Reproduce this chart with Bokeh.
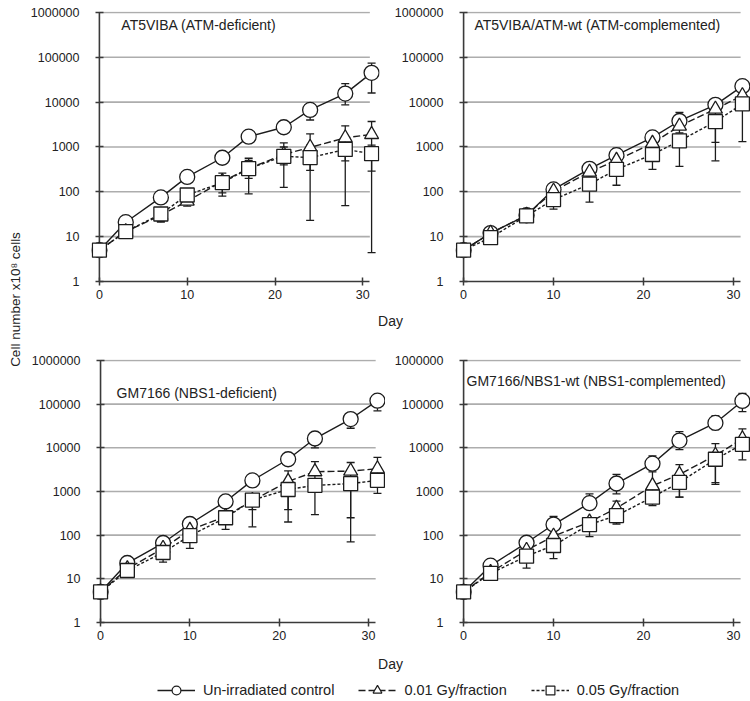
import numpy as np
from bokeh.plotting import figure
from bokeh.models import (Range1d, FixedTicker, NumeralTickFormatter, Label,
                          Legend, LegendItem, ColumnDataSource)
from bokeh.layouts import row, column
from bokeh.embed import file_html
from bokeh.resources import INLINE
from bokeh.core.properties import value

# ---------------- data ----------------
days = [0, 3, 7, 10, 14, 17, 21, 24, 28, 31]
decades = [1, 10, 100, 1000, 10000, 100000, 1000000]
x_ticks = [0, 10, 20, 30]
series_labels = ["Un-irradiated control", "0.01 Gy/fraction", "0.05 Gy/fraction"]
panel_titles = ["AT5VIBA (ATM-deficient)", "AT5VIBA/ATM-wt (ATM-complemented)",
                "GM7166 (NBS1-deficient)", "GM7166/NBS1-wt (NBS1-complemented)"]
x_label = "Day"
y_label = "Cell number x10\u2078 cells"

# Panel A: AT5VIBA
a_ctrl = [5, 21, 75, 215, 575, 1700, 2750, 6700, 15500, 45000]
a_ctrl_lo = [5, 21, 75, 215, 420, 1300, 2750, 4000, 8700, 16000]
a_ctrl_hi = [5, 21, 75, 215, 575, 1700, 2750, 8700, 26000, 74000]
a_g01 = [5, 13, 30, 62, 170, 330, 680, 980, 1600, 1900]
a_g01_lo = [5, 13, 21, 48, 95, 200, 400, 300, 490, 290]
a_g01_hi = [5, 13, 30, 62, 230, 500, 1000, 1950, 2960, 3700]
a_g05 = [5, 13, 32, 85, 160, 330, 620, 580, 880, 710]
a_g05_lo = [5, 13, 22, 60, 80, 90, 125, 23, 49, 4.4]
a_g05_hi = [5, 13, 32, 85, 260, 560, 1230, 1100, 1500, 1100]

# Panel B: AT5VIBA/ATM-wt
b_ctrl = [5, 12, 30, 113, 325, 655, 1630, 3800, 8700, 22700]
b_ctrl_lo = [5, 12, 30, 113, 325, 655, 1630, 3800, 8700, 22700]
b_ctrl_hi = [5, 13, 33, 148, 450, 935, 2000, 5900, 10500, 26000]
b_g01 = [5, 12, 30, 104, 275, 505, 1210, 2930, 7000, 14000]
b_g01_lo = [5, 12, 30, 90, 230, 420, 1000, 2050, 1260, 14000]
b_g01_hi = [5, 12, 30, 140, 400, 700, 1500, 4500, 9000, 17000]
b_g05 = [5, 9.5, 29, 67, 148, 315, 680, 1370, 3660, 9100]
b_g05_lo = [5, 9.5, 27, 41, 59, 140, 315, 370, 490, 1320]
b_g05_hi = [5, 9.5, 29, 67, 148, 315, 680, 1370, 3660, 9100]

# Panel C: GM7166
c_ctrl = [5, 23, 66, 180, 590, 1790, 5460, 16300, 45500, 120000]
c_ctrl_lo = [5, 20, 55, 165, 590, 1790, 5000, 10000, 28000, 70000]
c_ctrl_hi = [5, 23, 66, 180, 590, 1790, 5460, 16300, 45500, 120000]
c_g01 = [5, 17, 50, 130, 270, 620, 1700, 2830, 2930, 3300]
c_g01_lo = [5, 15, 45, 110, 200, 385, 385, 1000, 250, 1500]
c_g01_hi = [5, 17, 50, 130, 300, 700, 2950, 4800, 4600, 6000]
c_g05 = [5, 15.5, 40, 97, 250, 635, 1110, 1380, 1510, 1800]
c_g05_lo = [5, 15.5, 24, 50, 135, 155, 200, 295, 70, 900]
c_g05_hi = [5, 15.5, 40, 97, 250, 635, 1110, 1380, 1510, 1800]

# Panel D: GM7166/NBS1-wt
d_ctrl = [5, 20, 67, 175, 540, 1520, 4330, 14600, 37000, 118000]
d_ctrl_lo = [5, 20, 60, 150, 400, 880, 2800, 9100, 26000, 67000]
d_ctrl_hi = [5, 20, 67, 270, 880, 2450, 6500, 23500, 54000, 175000]
d_g01 = [5, 14, 45, 95, 200, 415, 1350, 2450, 6700, 16000]
d_g01_lo = [5, 12, 40, 80, 180, 350, 475, 740, 1450, 5300]
d_g01_hi = [5, 14, 45, 110, 250, 600, 3300, 4100, 12400, 27000]
d_g05 = [5, 13.3, 33, 58, 175, 280, 740, 1620, 5460, 12000]
d_g05_lo = [5, 11, 17.6, 29, 92, 180, 600, 740, 1600, 8700]
d_g05_hi = [5, 13.3, 33, 58, 175, 280, 740, 1620, 5460, 12000]

# ---------------- style ----------------
FONT = "Liberation Sans"
INK = "#1c1c1c"
AXIS = "#3a3a3a"
GRID = "#adadad"
TXT = "#222222"
X_AXIS_END = 30.8
X_PAD = 0.9
STYLES = [
    dict(marker="circle", size=15, dash="solid"),
    dict(marker="triangle", size=14, dash="7 3"),
    dict(marker="square", size=14, dash="3 2"),
]


def make_panel(title, series, w, h, bl, br, bt, tx, ty):
    p = figure(width=w, height=h, title=None, y_axis_type="log",
               x_range=Range1d(-X_PAD, x_ticks[-1] + 1.9),
               y_range=Range1d(decades[0], decades[-1] * 1.05),
               output_backend="svg", toolbar_location=None,
               min_border_left=bl, min_border_right=br,
               min_border_top=bt, min_border_bottom=26)
    p.outline_line_color = None
    p.background_fill_color = "white"
    p.border_fill_color = "white"
    p.xgrid.visible = False
    p.ygrid.visible = False

    # horizontal gridlines at decades (from the y axis to the end of the x axis)
    p.segment(x0=0, y0=decades[1:], x1=X_AXIS_END, y1=decades[1:],
              line_color=GRID, line_width=1.6)
    # vertical axis line at day 0
    p.segment(x0=[0], y0=[decades[0]], x1=[0], y1=[decades[-1]],
              line_color=AXIS, line_width=1.6)

    p.xaxis.ticker = FixedTicker(ticks=x_ticks)
    p.xaxis.bounds = (0, X_AXIS_END)
    p.yaxis.ticker = FixedTicker(ticks=decades)
    p.yaxis.formatter = NumeralTickFormatter(format="0")
    for ax in p.axis:
        ax.axis_line_color = AXIS
        ax.axis_line_width = 1.6
        ax.major_tick_line_color = AXIS
        ax.major_tick_line_width = 1.5
        ax.minor_tick_line_color = None
        ax.major_label_text_font = FONT
        ax.major_label_text_font_size = "12.5px"
        ax.major_label_text_color = TXT
    p.xaxis.major_tick_in = 4
    p.xaxis.major_tick_out = 4
    p.xaxis.major_label_standoff = 4
    # y axis sits at the frame edge (x = -pad); shift its ticks onto day 0
    p.yaxis.axis_line_color = None
    p.yaxis.major_tick_out = -4
    p.yaxis.major_tick_in = 12
    p.yaxis.major_label_standoff = 12

    srcs = [ColumnDataSource(dict(day=days, v=v, lo=lo, hi=hi)) for (v, lo, hi) in series]
    for src in srcs:
        p.segment(x0="day", y0="lo", x1="day", y1="hi", source=src,
                  line_color=INK, line_width=1.3)
        p.scatter("day", "lo", source=src, marker="dash", size=8,
                  line_color=INK, line_width=1.3)
        p.scatter("day", "hi", source=src, marker="dash", size=8,
                  line_color=INK, line_width=1.3)
    for src, st in zip(srcs, STYLES):
        p.line("day", "v", source=src, line_color=INK, line_width=1.4,
               line_dash=st["dash"])
    for src, st in zip(srcs, STYLES):
        p.scatter("day", "v", source=src, marker=st["marker"], size=st["size"],
                  fill_color="white", line_color=INK, line_width=1.3)

    p.add_layout(Label(x=tx, y=ty, text=title, text_font=FONT,
                       text_font_size="14px", text_color=TXT,
                       text_baseline="middle", text_align="left"))
    return p


def strip(w, h):
    s = figure(width=w, height=h, title=None,
               x_range=Range1d(0, w), y_range=Range1d(0, h),
               x_axis_type=None, y_axis_type=None,
               output_backend="svg", toolbar_location=None, min_border=0)
    s.outline_line_color = None
    s.background_fill_color = "white"
    s.border_fill_color = "white"
    return s


pA = make_panel(panel_titles[0],
                [(a_ctrl, a_ctrl_lo, a_ctrl_hi), (a_g01, a_g01_lo, a_g01_hi), (a_g05, a_g05_lo, a_g05_hi)],
                360, 307, 66, 6, 11, 2.5, 10 ** 5.73)
pB = make_panel(panel_titles[1],
                [(b_ctrl, b_ctrl_lo, b_ctrl_hi), (b_g01, b_g01_lo, b_g01_hi), (b_g05, b_g05_lo, b_g05_hi)],
                365, 307, 70, 0, 11, 1.2, 10 ** 5.71)
pC = make_panel(panel_titles[2],
                [(c_ctrl, c_ctrl_lo, c_ctrl_hi), (c_g01, c_g01_lo, c_g01_hi), (c_g05, c_g05_lo, c_g05_hi)],
                360, 313, 67, 0, 24, 1.8, 10 ** 5.245)
pD = make_panel(panel_titles[3],
                [(d_ctrl, d_ctrl_lo, d_ctrl_hi), (d_g01, d_g01_lo, d_g01_hi), (d_g05, d_g05_lo, d_g05_hi)],
                365, 313, 70, 0, 24, 0.33, 10 ** 5.54)

# "Day" strips
s1 = strip(725, 28)
s1.text(x=[365], y=[15], text=[x_label], text_font=value(FONT),
        text_font_size=value("14px"), text_color=TXT,
        text_align="center", text_baseline="middle")

s2 = strip(725, 53)
s2.text(x=[365], y=[38], text=[x_label], text_font=value(FONT),
        text_font_size=value("14px"), text_color=TXT,
        text_align="center", text_baseline="middle")

items = []
for lab, st in zip(series_labels, STYLES):
    proxy = ColumnDataSource(dict(x=np.array([np.nan]), y=np.array([np.nan])))
    rl = s2.line("x", "y", source=proxy, line_color=INK, line_width=1.3,
                 line_dash=st["dash"])
    rm = s2.scatter("x", "y", source=proxy, marker=st["marker"], size=9,
                    fill_color="white", line_color=INK, line_width=1.2)
    items.append(LegendItem(label=lab, renderers=[rl, rm]))
legend = Legend(items=items, orientation="horizontal", location=(132, 0),
                glyph_width=38, glyph_height=22, label_height=22,
                label_standoff=8, spacing=24, padding=0, margin=0,
                border_line_color=None, background_fill_alpha=0,
                label_text_font=FONT, label_text_font_size="14.5px",
                label_text_color=TXT)
s2.add_layout(legend)

# y label strip
ylab = strip(25, 701)
ylab.text(x=[15], y=[402], text=[y_label], angle=np.pi / 2,
          text_font=value(FONT), text_font_size=value("13.5px"),
          text_color=TXT, text_align="center", text_baseline="middle")

layout = row(ylab, column(row(pA, pB), s1, row(pC, pD), s2))

open("out.html", "w").write(file_html(layout, INLINE))
